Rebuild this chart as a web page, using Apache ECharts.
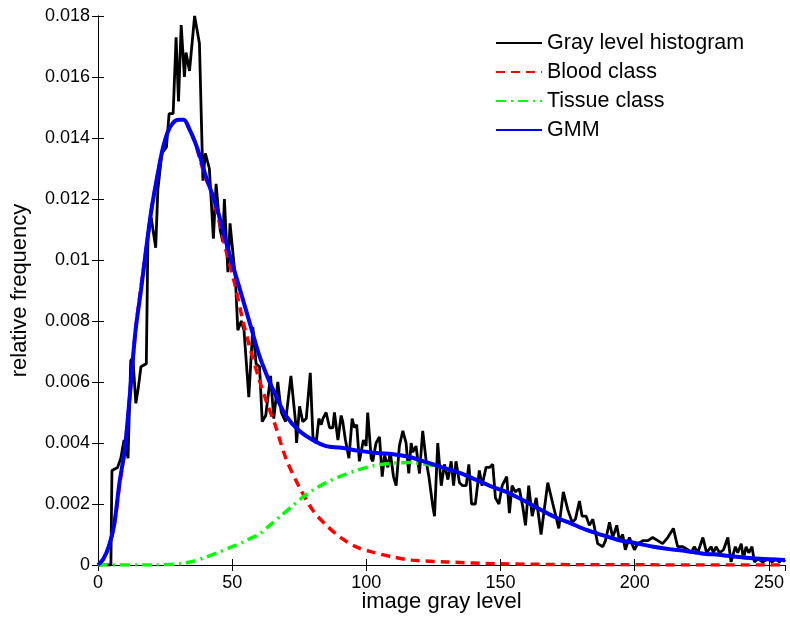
<!DOCTYPE html>
<html>
<head>
<meta charset="utf-8">
<script src="https://cdn.jsdelivr.net/npm/echarts@6/dist/echarts.min.js"></script>
<style>
html, body { margin: 0; padding: 0; background: #fff; }
#box { width: 790px; height: 617px; }
</style>
</head>
<body>
<div id="box"></div>
<script>
// gray level histogram
var histX = [0, 2, 4, 4.8, 5.2, 7.3, 8.5, 9.7, 11.2, 12.2, 13, 14.1, 15, 16, 18, 18.6, 19.8, 21.5, 22.3, 23.8,
  25.5, 26.5, 28, 29.1, 30, 31, 32.2, 32.8, 34.1, 36, 37.8, 39.1, 40, 41.5, 43, 44, 45.5, 46.5, 47.1, 48.4,
  49.2, 51.2, 52.1, 53.4, 54.4, 56.2, 57.7, 58.9, 60.2, 61.2, 62.5, 64.3, 65.5, 67, 68.3, 69.9, 71.9, 73.6, 74,
  75.1, 76.3, 77.6, 79.1, 80.1, 81.3, 82.3, 83.2, 83.8, 85, 86.3, 87.5, 88.1, 89.4, 90.6, 91.2, 92.2, 93.5,
  94.7, 95.6, 96.4, 97.4, 98.9, 99.9, 100.5, 101.8, 102.4, 103.6, 104.9, 105.9, 106.8, 108, 108.9, 110.1,
  111.1, 112.3, 113.6, 114.8, 115.8, 116.7, 117.3, 118.5, 119.8, 121, 122.3, 123.3, 124.8, 125.4, 126.6,
  127.9, 129.1, 130.4, 131.6, 132.5, 133.4, 134.7, 135.9, 137.2, 138.2, 139.2, 140.6, 142.1, 143.1, 144.6,
  145.9, 147.1, 148.1, 149.4, 150.6, 152.3, 153.3, 154.3, 155.5, 157, 158.3, 159.3, 160.5, 161.8, 163.3,
  165.1, 167.6, 169.5, 171.7, 173.4, 175.1, 176.7, 177.9, 179.4, 180.4, 181.9, 183.1, 184.4, 186.2, 188.1,
  189.1, 190.6, 191.8, 193.3, 194.3, 195.5, 196.5, 198, 199.9, 201.1, 203.2, 204.9, 206.7, 208.6, 210.4,
  212.3, 214.4, 216, 217.9, 219.8, 221, 222.2, 223.5, 225.4, 226.8, 228.5, 229.3, 230.3, 231.6, 233.1,
  234.7, 235.9, 237.5, 238.4, 239.7, 240.5, 241.5, 242.5, 243.7, 244.6, 245.9, 247.7, 249.6, 251.2, 252.7,
  253.9, 255.1, 256];
var histY = [0, 0, 0, 0, 0.0031, 0.0032, 0.0035, 0.0041, 0.0035, 0.0067, 0.0068, 0.0053, 0.0058, 0.0065, 0.0066, 0.0107, 0.0114, 0.0104, 0.0123, 0.0135,
  0.0137, 0.0148, 0.0148, 0.0173, 0.0152, 0.0177, 0.0160, 0.0168, 0.0162, 0.0180, 0.0171, 0.0126, 0.0135, 0.0130, 0.0107, 0.0125, 0.0110, 0.0106, 0.0120, 0.0096,
  0.0112, 0.0094, 0.0077, 0.0080, 0.0077, 0.0055, 0.0078, 0.0066, 0.0065, 0.0047, 0.0049, 0.0062, 0.0048, 0.0060, 0.0050, 0.0047, 0.0062, 0.0047, 0.0040,
  0.0052, 0.0047, 0.0048, 0.0063, 0.0042, 0.0040, 0.0048, 0.0046, 0.0048, 0.0050, 0.0045, 0.0045, 0.0050, 0.0041, 0.0049, 0.0047, 0.0041, 0.0035,
  0.0048, 0.0045, 0.0046, 0.0034, 0.0041, 0.0039, 0.0050, 0.0035, 0.0034, 0.0040, 0.0042, 0.0029, 0.0036, 0.0032, 0.0037, 0.0029,
  0.0026, 0.0039, 0.0044, 0.0040, 0.0030, 0.0040, 0.0037, 0.0039, 0.0030, 0.0044, 0.0034, 0.0029, 0.0019, 0.0016, 0.0040,
  0.0026, 0.0033, 0.0028, 0.0034, 0.0026, 0.0034, 0.0027, 0.0026, 0.0026, 0.0033, 0.0020, 0.0020, 0.0031, 0.0026, 0.0032,
  0.0032, 0.0033, 0.0022, 0.0020, 0.0026, 0.0029, 0.0017, 0.0026, 0.0024, 0.0025, 0.0019, 0.0013, 0.0026, 0.0016, 0.0022,
  0.0010, 0.0027, 0.0020, 0.0012, 0.0024, 0.0018, 0.0014, 0.0015, 0.0021, 0.0016, 0.0016, 0.0013, 0.0015, 0.0007, 0.0006,
  0.0008, 0.0014, 0.0009, 0.0013, 0.0008, 0.0010, 0.0005, 0.0009, 0.0005, 0.0007, 0.0008, 0.0008, 0.0009, 0.0008, 0.0007,
  0.0009, 0.0012, 0.0006, 0.0006, 0.0005, 0.0004, 0.0006, 0.0004, 0.0009, 0.0004, 0.0006, 0.0004, 0.0006, 0.0004, 0.0005,
  0.0009, 0.0001, 0.0006, 0.0004, 0.0007, 0.0002, 0.0006, 0.0004, 0.0006, 0.0001, 0.0002, 0.0001, 0.0002, 0.0001, 0.0002,
  0.0001, 0.0002, 0.0001];

// blood class component
var bloodX = [0, 2, 4, 6, 8, 10, 12, 14, 16, 18, 20, 22, 24, 26, 28, 30, 32, 34, 36, 38, 40, 42, 45, 48, 51, 54, 57, 60, 63, 66,
  70, 75, 80, 85, 90, 96, 102, 110, 117, 130, 150, 180, 256];
var bloodY = [0, 0.0002, 0.0006, 0.0013, 0.0026, 0.0038, 0.0057, 0.0077, 0.0091, 0.0104, 0.0117, 0.0127, 0.0136, 0.0142, 0.0145, 0.0146,
  0.0146, 0.0143, 0.0139, 0.0133, 0.0127, 0.0123, 0.0113, 0.0102, 0.0092, 0.0080, 0.0070, 0.0061, 0.0053, 0.0046,
  0.0035, 0.00256, 0.0018, 0.00131, 0.00093, 0.0006, 0.00043, 0.00026, 0.00016, 0.0001, 0.00004, 0.00001, 0];

// tissue class component
var tissueX = [0, 20, 30, 36, 40, 45, 50, 54, 57, 60, 64, 68, 72, 76, 80, 85, 90, 97, 103, 110, 116, 122, 128, 135, 141, 147, 153,
  160, 163, 170, 176, 182, 188, 194, 200, 207, 213, 219, 225, 232, 238, 244, 250, 256];
var tissueY = [0, 0, 0.00004, 0.00013, 0.00025, 0.00042, 0.0006, 0.00075, 0.00088, 0.001, 0.0013, 0.0016, 0.0019, 0.0022, 0.00245, 0.0027,
  0.0029, 0.00312, 0.00326, 0.00334, 0.00336, 0.0033, 0.0032, 0.00301, 0.00279, 0.00256, 0.00236,
  0.00205, 0.0019, 0.00158, 0.00137, 0.00115, 0.00098, 0.00082, 0.00072, 0.0006, 0.00052, 0.00046, 0.00038, 0.00033, 0.00027, 0.00022, 0.00019, 0.00016];

// gaussian mixture model fit
var gmmX = [0, 2, 4, 6, 8, 10, 12, 14, 16, 18, 20, 22, 24, 26, 28, 30, 32, 34, 36, 38, 40, 42, 45, 48, 51, 54, 57, 60, 63, 66,
  70, 75, 80, 85, 90, 97, 104, 110, 116, 122, 128, 135, 141, 147, 153, 160, 163, 170, 176, 182, 188, 194, 200, 207, 213,
  219, 225, 232, 238, 244, 250, 256];
var gmmY = [0, 0.0002, 0.0006, 0.0013, 0.0027, 0.0038, 0.0057, 0.0077, 0.0090, 0.0104, 0.0117, 0.0127, 0.0136, 0.0142, 0.0145, 0.0146,
  0.0146, 0.0143, 0.0139, 0.0134, 0.0128, 0.0123, 0.0115, 0.0105, 0.0096, 0.0087, 0.0078, 0.0069, 0.0062, 0.0056,
  0.0049, 0.0044, 0.0041, 0.0039, 0.00385, 0.00375, 0.00367, 0.00363, 0.00354, 0.00338, 0.00321, 0.00301, 0.00279, 0.00256, 0.00236,
  0.00205, 0.0019, 0.00158, 0.00137, 0.00115, 0.00098, 0.00082, 0.00072, 0.0006, 0.00052, 0.00046, 0.00038, 0.00033, 0.00027, 0.00022,
  0.00019, 0.00016];

var xTicks = [0, 50, 100, 150, 200, 250];
var yTicks = [0, 0.002, 0.004, 0.006, 0.008, 0.01, 0.012, 0.014, 0.016, 0.018];

function pairs(xs, ys) {
  var out = [];
  for (var i = 0; i < xs.length; i++) out.push([xs[i], ys[i]]);
  return out;
}

var font = 'Liberation Sans, Arial, sans-serif';
var tickFs = 18;
var labelFs = 22;

var chart = echarts.init(document.getElementById('box'));
var option = {
  animation: false,
  backgroundColor: '#fff',
  textStyle: { fontFamily: font },
  grid: { left: 98, right: 5, top: 16, bottom: 52, outerBoundsMode: 'none', containLabel: false },
  legend: {
    orient: 'vertical',
    left: 495,
    top: 32,
    padding: 0,
    itemWidth: 46,
    itemHeight: 14,
    itemGap: 7,
    itemStyle: { opacity: 0 },
    textStyle: { fontFamily: font, fontSize: 21.5, color: '#000' },
    data: ['Gray level histogram', 'Blood class', 'Tissue class', 'GMM']
  },
  xAxis: [{
    type: 'value', min: 0, max: 256, interval: 50,
    name: 'image gray level', nameLocation: 'middle', nameGap: 26, nameMoveOverlap: false,
    nameTextStyle: { fontFamily: font, fontSize: labelFs, color: '#000' },
    axisLine: { lineStyle: { color: '#000', width: 1 } },
    axisTick: { inside: true, length: 6, lineStyle: { color: '#000' } },
    axisLabel: {
      fontFamily: font, fontSize: tickFs, color: '#000', margin: 9, showMaxLabel: false,
      formatter: function (v) { return xTicks.indexOf(v) >= 0 ? String(v) : ''; }
    },
    splitLine: { show: false }
  }, {
    type: 'value', min: 0, max: 256, interval: 50, position: 'top',
    axisLine: { lineStyle: { color: '#000', width: 1 } },
    axisTick: { inside: true, length: 6, lineStyle: { color: '#000' } },
    axisLabel: { show: false },
    splitLine: { show: false }
  }],
  yAxis: [{
    type: 'value', min: 0, max: 0.018, interval: 0.002,
    name: 'relative frequency', nameLocation: 'middle', nameGap: 67,
    nameTextStyle: { fontFamily: font, fontSize: labelFs, color: '#000' },
    axisLine: { show: true, lineStyle: { color: '#000', width: 1 } },
    axisTick: { show: true, inside: true, length: 6, lineStyle: { color: '#000' } },
    axisLabel: {
      fontFamily: font, fontSize: tickFs, color: '#000', margin: 8,
      formatter: function (v) {
        var r = Math.round(v * 1000) / 1000;
        return yTicks.indexOf(r) >= 0 ? String(r) : '';
      }
    },
    splitLine: { show: false }
  }, {
    type: 'value', min: 0, max: 0.018, interval: 0.002, position: 'right',
    axisLine: { show: true, lineStyle: { color: '#000', width: 1 } },
    axisTick: { show: true, inside: true, length: 6, lineStyle: { color: '#000' } },
    axisLabel: { show: false },
    splitLine: { show: false }
  }],
  series: [{
    name: 'Gray level histogram', type: 'line', showSymbol: false, symbol: 'none',
    data: pairs(histX, histY),
    lineStyle: { color: '#000', width: 2.8 },
    itemStyle: { color: '#000' },
    z: 2
  }, {
    name: 'Blood class', type: 'line', showSymbol: false, symbol: 'none', smooth: 0.3,
    data: pairs(bloodX, bloodY),
    lineStyle: { color: '#ff0000', width: 3.5, type: [9, 6] },
    itemStyle: { color: '#ff0000' },
    z: 3
  }, {
    name: 'Tissue class', type: 'line', showSymbol: false, symbol: 'none', smooth: 0.3,
    data: pairs(tissueX, tissueY),
    lineStyle: { color: '#00ff00', width: 3.5, type: [10, 5, 2, 5] },
    itemStyle: { color: '#00ff00' },
    z: 3
  }, {
    name: 'GMM', type: 'line', showSymbol: false, symbol: 'none', smooth: 0.3,
    data: pairs(gmmX, gmmY),
    lineStyle: { color: '#0000ff', width: 4 },
    itemStyle: { color: '#0000ff' },
    z: 4
  }]
};
chart.setOption(option);
</script>
</body>
</html>
